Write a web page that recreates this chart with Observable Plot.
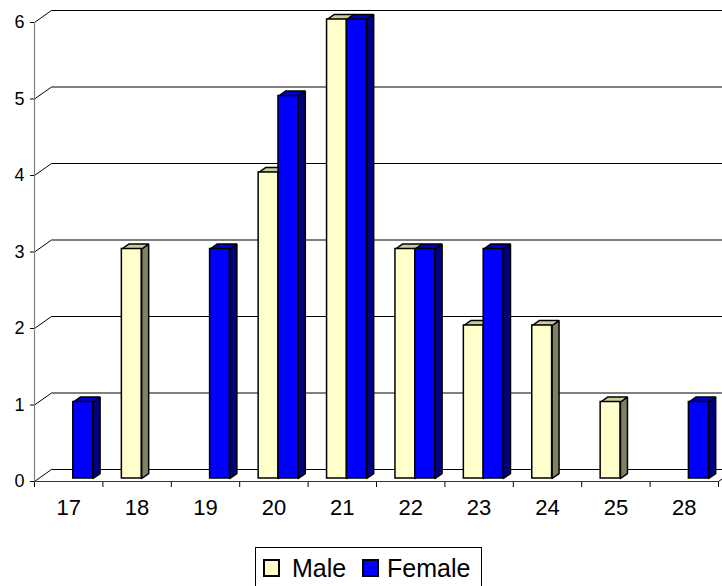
<!DOCTYPE html>
<html>
<head>
<meta charset="utf-8">
<script src="https://cdn.jsdelivr.net/npm/d3@7"></script>
<script src="https://cdn.jsdelivr.net/npm/@observablehq/plot@0.6"></script>
<style>
  html, body { margin: 0; padding: 0; background: #fff; overflow: hidden; }
  body { width: 722px; height: 586px; position: relative; font-family: "Liberation Sans", Arial, sans-serif; }
  #legend {
    position: absolute; left: 255px; top: 547px; width: 227px; height: 42px;
    border: 1px solid #000; box-sizing: border-box; background: #fff;
  }
  #legend .sw { position: absolute; top: 11px; width: 17px; min-width: 17px; height: 18px; box-sizing: border-box; border: 2px solid #000; display: block; }
  #legend .lab { position: absolute; top: 6px; font-size: 25px; line-height: 28px; color: #000; white-space: nowrap; }
</style>
</head>
<body>
<div id="chart"></div>
<div id="legend"></div>
<script>
// Ages on the category axis and the count of students of each sex
const ages = ["17", "18", "19", "20", "21", "22", "23", "24", "25", "28"];
const male = [0, 3, 0, 4, 6, 3, 2, 2, 1, 0];
const female = [1, 0, 3, 5, 6, 3, 3, 0, 0, 1];
const yTicks = [0, 1, 2, 3, 4, 5, 6];

const seriesNames = ["Male", "Female"];
const palette = {
  Male:   {front: "#FFFFCC", side: "#808066", top: "#CCCC99"},
  Female: {front: "#0000FF", side: "#000080", top: "#0000CC"}
};

// Oblique depth of the floor, in axis units (x: one category, y: one count)
const DX = 17 / 68.4, DY = 12 / 76.5;
const FRONT = 0.25, DEPTH = 0.41;   // where the columns sit in the floor depth
const BAR_W = 0.29, GAP0 = 0.215;

const bars = [];
ages.forEach((age, i) => {
  [male[i], female[i]].forEach((v, k) => {
    if (v > 0) {
      const x1 = i + GAP0 + k * BAR_W + FRONT * DX;
      bars.push({age, series: seriesNames[k], value: v, x1, x2: x1 + BAR_W, y0: FRONT * DY, y1: v + FRONT * DY});
    }
  });
});

const bx = DEPTH * DX, by = DEPTH * DY;
const sides = [], tops = [];
bars.forEach((b, j) => {
  const s = [[b.x2, b.y0], [b.x2, b.y1], [b.x2 + bx, b.y1 + by], [b.x2 + bx, b.y0 + by], [b.x2, b.y0]];
  s.forEach(([x, y]) => sides.push({id: j, x, y, fill: palette[b.series].side}));
  const t = [[b.x1, b.y1], [b.x2, b.y1], [b.x2 + bx, b.y1 + by], [b.x1 + bx, b.y1 + by], [b.x1, b.y1]];
  t.forEach(([x, y]) => tops.push({id: j, x, y, fill: palette[b.series].top}));
});

const n = ages.length;

const chart = Plot.plot({
  width: 722,
  height: 530,
  marginLeft: 34,
  marginRight: 4,
  marginTop: 22,
  marginBottom: 49,
  style: {fontFamily: "'Liberation Sans', Arial, sans-serif", fontSize: "18px", color: "#000", background: "#fff", overflow: "visible"},
  x: {domain: [0, n], ticks: n, tickSize: 6, tickFormat: () => "", label: null},
  y: {domain: [0, 6], ticks: 6, tickSize: 4, tickPadding: 6, label: null},
  color: {type: "identity"},
  marks: [
    // back wall gridlines
    Plot.link(yTicks, {x1: DX, y1: d => d + DY, x2: n + DX, y2: d => d + DY, stroke: "#000", strokeWidth: 1}),
    // depth lines from the value axis to the back wall
    Plot.link(yTicks, {x1: 0, y1: d => d, x2: DX, y2: d => d + DY, stroke: "#000", strokeWidth: 1}),
    // right edge of the floor
    Plot.link([n], {x1: d => d, y1: 0, x2: d => d + DX, y2: DY, stroke: "#000", strokeWidth: 1}),
    // front edge of the floor and the value axis line
    Plot.link([0], {x1: 0, y1: 0, x2: n, y2: 0, stroke: "#333", strokeWidth: 1.2}),
    Plot.link([0], {x1: 0, y1: 0, x2: 0, y2: 6, stroke: "#808080", strokeWidth: 1.2}),
    // column sides, tops, then fronts
    Plot.line(sides, {x: "x", y: "y", z: "id", fill: "fill", stroke: "#000", strokeWidth: 1.5, strokeLinejoin: "miter"}),
    Plot.line(tops, {x: "x", y: "y", z: "id", fill: "fill", stroke: "#000", strokeWidth: 1.5, strokeLinejoin: "miter"}),
    Plot.rect(bars, {x1: "x1", x2: "x2", y1: "y0", y2: "y1", fill: d => palette[d.series].front, stroke: "#000", strokeWidth: 1.5}),
    // category labels centred under each band
    Plot.text(ages, {x: (d, i) => i + 0.5, y: () => 0, dy: 26, text: d => d, fill: "#000", fontSize: 22})
  ]
});
document.getElementById("chart").appendChild(chart);

// legend: swatch and name for each series, laid out left to right
const legend = document.getElementById("legend");
const legendX = {Male: [7, 36], Female: [106, 131]};
seriesNames.forEach(s => {
  const sw = document.createElement("div");
  sw.className = "sw";
  sw.style.left = legendX[s][0] + "px";
  sw.style.background = palette[s].front;
  const lab = document.createElement("div");
  lab.className = "lab";
  lab.style.left = legendX[s][1] + "px";
  lab.textContent = s;
  legend.appendChild(sw);
  legend.appendChild(lab);
});
</script>
</body>
</html>
